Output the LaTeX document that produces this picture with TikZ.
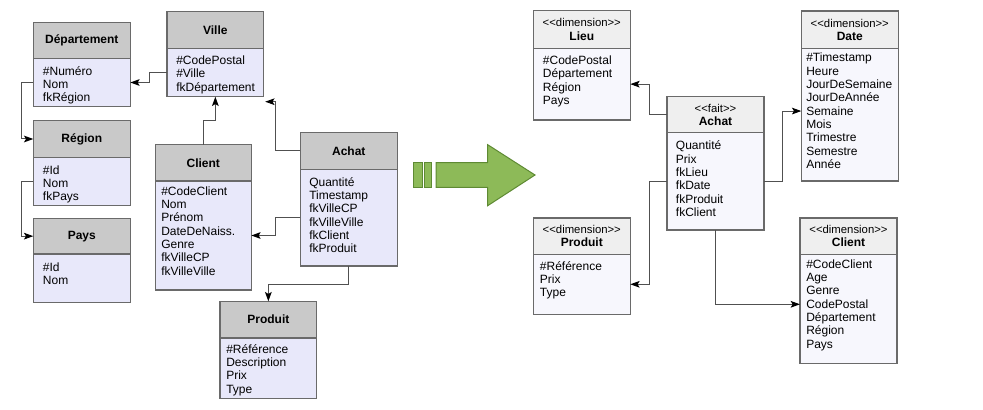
\documentclass[tikz,border=0pt]{standalone}
\usepackage{fontspec}
\setmainfont{Liberation Sans}
\usetikzlibrary{arrows.meta}
\definecolor{lhd}{HTML}{C9C9C9}
\definecolor{lbd}{HTML}{E8E8FA}
\definecolor{rhd}{HTML}{EFEFEF}
\definecolor{rbd}{HTML}{F7F7FD}
\definecolor{bord}{HTML}{6A6A6A}
\definecolor{conncol}{HTML}{505050}
\definecolor{grn}{HTML}{8DBA58}
\definecolor{grnd}{HTML}{5E8A33}
\newcommand\st[1]{<{}<#1>{}>}
\newcommand\umlbox[9]{%
 \node[hd, minimum width=#4*0.75pt, minimum height=#5*0.75pt] (#1h) at (#2,#3) {#7};
 \node[bd, minimum width=#4*0.75pt, minimum height=#6*0.75pt] (#1) at (#1h.south west) {};
 \node[txt] (#1t) at ([shift={#8}]#1.north west) {\begin{tabular}[t]{@{}l@{}}#9\end{tabular}};}
\tikzset{
 box/.style={rectangle, draw=bord, line width=0.8pt, anchor=north west, inner sep=0pt, outer sep=0pt},
 txt/.style={anchor=base west, inner sep=0pt, font=\fontsize{9}{10}\selectfont},
 link/.style={draw=conncol, line width=0.75pt, -{Stealth[length=7pt,width=5pt,inset=1.5pt,black]}},
 bigarrow/.style={fill=grn, draw=grnd, line width=0.75pt, line join=miter}
}
\begin{document}
\begin{tikzpicture}[x=0.75pt,y=-0.75pt]
\useasboundingbox (0,0) rectangle (983,410);
% ---------- left schema ----------
\begin{scope}[hd/.style={box, fill=lhd, font=\bfseries\fontsize{9}{10}\selectfont},
              bd/.style={box, fill=lbd}]
\umlbox{dep}{33.3}{22.3}{97}{36}{48.4}{Département}{(9.4,17)}{\#Numéro\\Nom\\fkRégion}
\umlbox{ville}{167}{11.3}{96.7}{37}{48.4}{Ville}{(9,16.3)}{\#CodePostal\\\#Ville\\fkDépartement}
\umlbox{reg}{33.3}{120.7}{97}{36.6}{48}{Région}{(9.4,17)}{\#Id\\Nom\\fkPays}
\umlbox{pays}{33.3}{218.3}{97}{35.7}{48.7}{Pays}{(9.4,17.3)}{\#Id\\Nom}
\umlbox{client}{155.3}{144.7}{96}{36.3}{109}{Client}{(5.7,14.3)}{\#CodeClient\\Nom\\Prénom\\DateDeNaiss.\\Genre\\fkVilleCP\\fkVilleVille}
\umlbox{achat}{300.3}{132.7}{97}{36.6}{96.7}{Achat}{(8.7,16.7)}{Quantité\\Timestamp\\fkVilleCP\\fkVilleVille\\fkClient\\fkProduit}
\umlbox{prod}{220}{301.3}{96.7}{36.7}{60.7}{Produit}{(6,15.3)}{\#Référence\\Description\\Prix\\Type}
\end{scope}
\coordinate (villec) at ([shift={(1.5,5)}]ville.south east);
\draw[link] (ville.west) -- ++(-18,0) |- (dep.east);
\draw[link] (dep.west) -- ++(-12,0) |- (regh.west);
\draw[link] (reg.west) -- ++(-12,0) |- (paysh.west);
\draw[link] (clienth.north) -- ++(0,-24) -| (ville.south);
\draw[link] (achath.west) -- ++(-25,0) |- (villec);
\draw[link] (achat.west) -- ++(-25,0) |- (client.east);
\draw[link] (achat.south) -- ++(0,18) -| (prodh.north);
% ---------- transformation arrow ----------
\draw[bigarrow] (413.3,162.7) rectangle (422,187.3);
\draw[bigarrow] (424.3,162.7) rectangle (431,187.3);
\draw[bigarrow] (436,162.7) -- (487.7,162.7) -- (487.7,144.7) -- (535,175) -- (487.7,205.7) -- (487.7,187.3) -- (436,187.3) -- cycle;
% ---------- right schema ----------
\begin{scope}[hd/.style={box, fill=rhd, align=center, font=\fontsize{9}{10}\selectfont},
              bd/.style={box, fill=rbd}]
\umlbox{lieu}{533.3}{10.7}{97}{37.6}{71.7}{{\fontsize{8.5}{10}\selectfont\st{dimension}}\\\textbf{Lieu}}{(9.4,16.3)}{\#CodePostal\\Département\\Région\\Pays}
\umlbox{rachat}{667}{96.7}{97}{36}{97.3}{{\fontsize{8.5}{10}\selectfont\st{fait}}\\\textbf{Achat}}{(8.7,17.3)}{Quantité\\Prix\\fkLieu\\fkDate\\fkProduit\\fkClient}
\umlbox{rprod}{533.3}{218}{97}{36.3}{60}{{\fontsize{8.5}{10}\selectfont\st{dimension}}\\\textbf{Produit}}{(6.4,15.7)}{\#Référence\\Prix\\Type}
\umlbox{date}{801.3}{11}{97}{37.3}{132.7}{{\fontsize{8.5}{10}\selectfont\st{dimension}}\\\textbf{Date}}{(4.7,13.7)}{\#Timestamp\\Heure\\JourDeSemaine\\JourDeAnnée\\Semaine\\Mois\\Trimestre\\Semestre\\Année}
\umlbox{rclient}{800}{218}{97}{36.3}{109}{{\fontsize{8.5}{10}\selectfont\st{dimension}}\\\textbf{Client}}{(6,14)}{\#CodeClient\\Age\\Genre\\CodePostal\\Département\\Région\\Pays}
\end{scope}
\coordinate (datec) at ([shift={(0,-3.6)}]date.west);
\coordinate (rclientc) at ([shift={(0,-4.5)}]rclient.west);
\draw[link] (rachath.west) -- ++(-18,0) |- (lieu.east);
\draw[link] (rachat.west) -- ++(-18,0) |- (rprod.east);
\draw[link] (rachat.east) -- ++(18,0) |- (datec);
\draw[link] (rachat.south) |- (rclientc);
\end{tikzpicture}
\end{document}
